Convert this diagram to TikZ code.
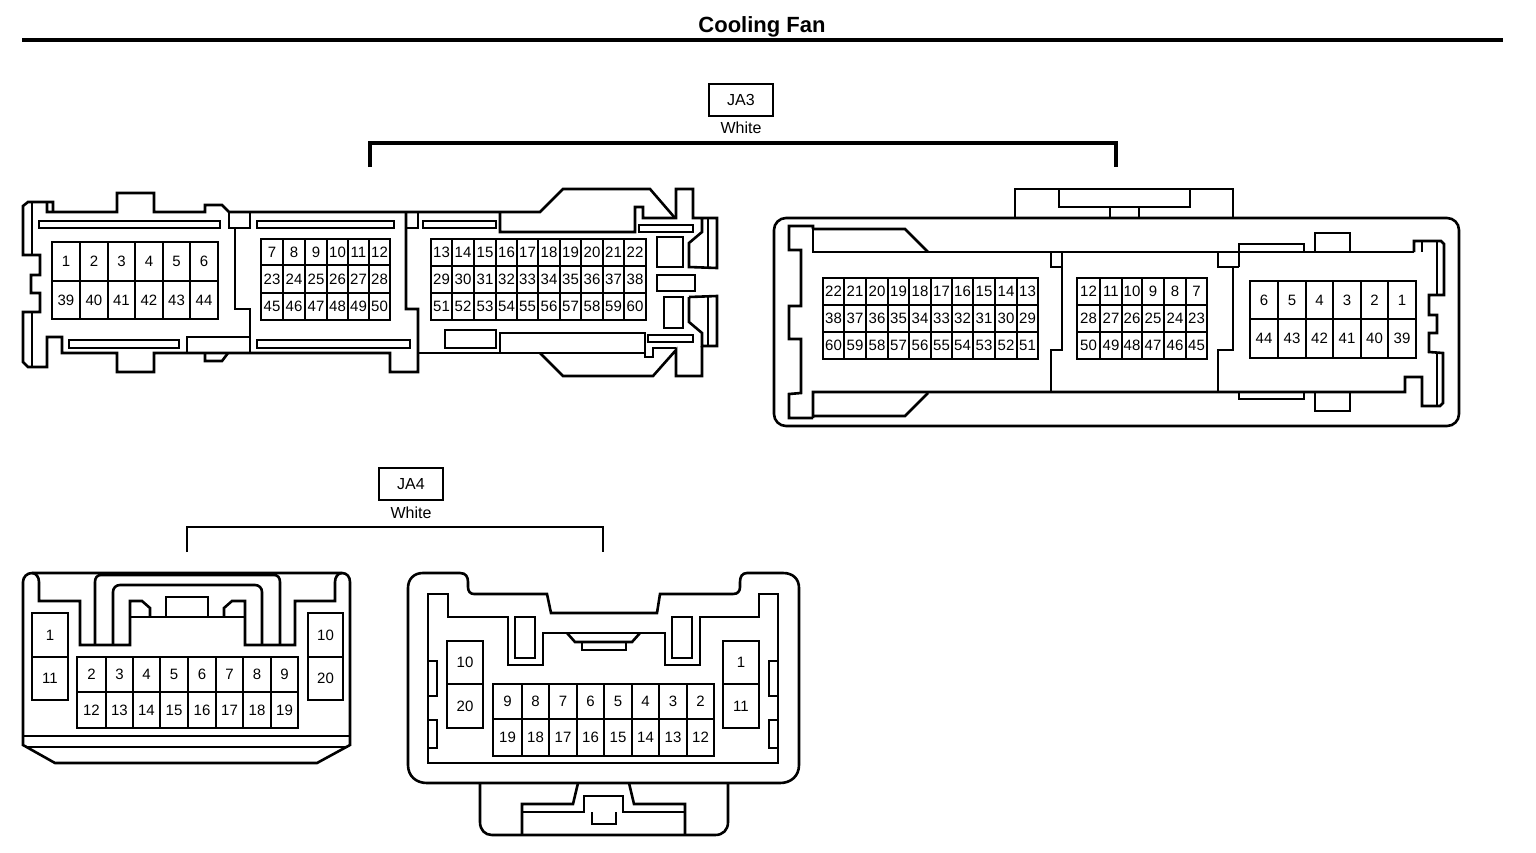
\documentclass[tikz,border=0pt]{standalone}
\usepackage{fontspec}
\setmainfont{Liberation Sans}
\tikzset{
  wall/.style={draw=black,line width=2.6pt,miter limit=4,line join=miter},
  thin wall/.style={draw=black,line width=1.8pt},
  bold wall/.style={draw=black,line width=3.2pt},
  slot/.style={draw=black,line width=2.6pt},
  cell/.style={draw=black,line width=2.6pt,inner sep=0pt,outer sep=0pt,font=\fontsize{15}{17}\selectfont,text depth=0pt},
  keybox/.style={draw=black,line width=2.4pt,minimum width=64pt,minimum height=32pt,inner sep=0pt,font=\fontsize{16}{18}\selectfont},
  caption/.style={inner sep=0pt,font=\fontsize{16}{18}\selectfont},
}
\newcommand{\gridrow}[5]{% prefix, ytop, ybot, bounds, labels
  \foreach \lab [count=\ci] in {#5} {
    \pgfmathsetmacro\xa{#4[\ci-1]}
    \pgfmathsetmacro\xb{#4[\ci]}
    \pgfmathsetmacro\cellw{\xb-\xa}
    \pgfmathsetmacro\cellh{#3-#2}
    \node[cell,minimum width=\cellw pt,minimum height=\cellh pt] (#1\lab) at ({(\xa+\xb)/2},{(#2+#3)/2}) {\lab};
  }
}
\begin{document}
\begin{tikzpicture}[x=1pt,y=-1pt]
\path[fill=white] (0,0) rectangle (1536,852);
\useasboundingbox (0,0) rectangle (1536,852);

% ---------- title
\node[inner sep=0pt,font=\fontsize{22}{24}\selectfont\bfseries] (title) at (762,26.5) {Cooling Fan};
\coordinate (rulel) at (22,40); \coordinate (ruler) at (1503,40);
\draw[line width=3.2pt] (rulel) -- (ruler);

% ---------- keys and brackets
\node[keybox] (ja3) at (741,100) {\raisebox{-1pt}{JA3}};
\node[caption] (ja3w) at (741,128) {White};
\coordinate (b3a) at (370,167); \coordinate (b3b) at (370,143); \coordinate (b3c) at (1116,143); \coordinate (b3d) at (1116,167);
\draw[bold wall] (b3a) -- (b3b) -- (b3c) -- (b3d);
\node[keybox] (ja4) at (411,484) {\raisebox{-1pt}{JA4}};
\node[caption] (ja4w) at (411,513) {White};
\coordinate (b4a) at (187,552); \coordinate (b4b) at (187,527); \coordinate (b4c) at (603,527); \coordinate (b4d) at (603,552);
\draw[wall] (b4a) -- (b4b) -- (b4c) -- (b4d);

% ---------- JA3 left connector
\draw[wall] (53,212) -- (53,202) -- (28,202) -- (23,206) -- (23,255) -- (40,255) -- (40,275) -- (31,275) -- (31,293) -- (40,293) -- (40,312) -- (23,312) -- (23,362) -- (28,367) -- (47,367) -- (47,337) -- (62,337) -- (62,353) -- (117,353) -- (117,372) -- (154,372) -- (154,353) -- (390,353) -- (390,372) -- (418,372) -- (418,309) -- (406,309) -- (406,212);
\draw[wall] (406,228) -- (418,228) -- (418,212);
\draw[wall] (47,202) -- (47,212) -- (117,212) -- (117,193) -- (154,193) -- (154,212) -- (205,212) -- (205,205) -- (222,205) -- (229,212) -- (540,212) -- (563,189) -- (650,189) -- (675,218);
\draw[wall] (32,202) -- (32,255) (32,312) -- (32,367);
\draw[wall] (205,353) -- (205,361) -- (222,361) -- (228,353);
\draw[slot] (39,221) rectangle (220,228);
\draw[slot] (69,340) rectangle (179,348);
\draw[slot] (257,221) rectangle (394,228);
\draw[slot] (257,340) rectangle (410,348);
\draw[slot] (423,221) rectangle (496,228);
\draw[wall] (229,212) -- (229,228) -- (250,228) -- (250,212);
\draw[wall] (235,228) -- (235,309) -- (250,309) -- (250,353);
\draw[wall] (187,353) -- (187,337) -- (250,337);
% right end
\draw[wall] (500,212) -- (500,232) -- (635,232) -- (635,207) -- (643,207) -- (643,218) -- (676,218) -- (676,189) -- (693,189) -- (693,218) -- (717,218) -- (717,268) -- (689,267) -- (689,243) -- (702,232) -- (702,218);
\draw[wall] (708,218) -- (708,268);
\draw[slot] (639,225) rectangle (693,232);
\draw[wall] (657,237) rectangle (683,267);
\draw[wall] (657,275) rectangle (695,291);
\draw[wall] (664,297) rectangle (683,328);
\draw[wall] (689,297) -- (717,296) -- (717,346) -- (702,346) -- (702,333) -- (689,322) -- (689,297);
\draw[wall] (708,296) -- (708,346);
\draw[wall] (702,346) -- (702,376) -- (676,376) -- (676,350) -- (653,376) -- (563,376) -- (540,353);
\draw[wall] (418,353) -- (645,353);
\draw[wall] (500,353) -- (500,333) -- (645,333) -- (645,357) -- (653,357) -- (653,348) -- (676,348);
\draw[slot] (648,335) rectangle (693,342);
\draw[wall] (445,330) rectangle (496,348);

\def\colsA{{52,80,108,135,163,190,218}}
\gridrow{la}{242}{281}{\colsA}{1,2,3,4,5,6}
\gridrow{la}{281}{319}{\colsA}{39,40,41,42,43,44}
\def\colsB{{261,283,305,327,348,369,390}}
\gridrow{la}{239}{265}{\colsB}{7,8,9,10,11,12}
\gridrow{la}{265}{293}{\colsB}{23,24,25,26,27,28}
\gridrow{la}{293}{320}{\colsB}{45,46,47,48,49,50}
\def\colsC{{431,452,474,496,517,538,560,581,603,624,646}}
\gridrow{la}{239}{266}{\colsC}{13,14,15,16,17,18,19,20,21,22}
\gridrow{la}{266}{293}{\colsC}{29,30,31,32,33,34,35,36,37,38}
\gridrow{la}{293}{320}{\colsC}{51,52,53,54,55,56,57,58,59,60}

% ---------- JA3 right connector
\draw[wall,rounded corners=12pt] (774,218) rectangle (1459,426);
\draw[wall] (1015,218) -- (1015,189) -- (1233,189) -- (1233,218);
\draw[wall] (1059,189) -- (1059,207) -- (1190,207) -- (1190,189);
\draw[thin wall] (1110,207) -- (1110,218) (1139,207) -- (1139,218);
\draw[wall] (813,229) -- (813,226) -- (789,226) -- (789,250) -- (801,250) -- (801,306) -- (789,306) -- (789,339) -- (801,339) -- (801,393) -- (789,394) -- (789,418) -- (813,418);
\draw[wall] (813,229) -- (905,229) -- (928,252);
\draw[wall] (813,229) -- (813,252) -- (1414,252);
\draw[wall] (813,418) -- (813,392) -- (1405,392) -- (1405,377) -- (1422,377) -- (1422,406) -- (1440,406) -- (1443,403) -- (1443,353) -- (1429,352) -- (1429,333) -- (1437,333) -- (1437,315) -- (1429,315) -- (1429,295) -- (1444,295) -- (1444,244) -- (1441,241) -- (1414,241) -- (1414,252);
\draw[wall] (813,416) -- (905,416) -- (928,393);
\draw[wall] (1422,241) -- (1422,252);
\draw[thin wall] (1437,241) -- (1437,295) (1437,353) -- (1437,406);
\draw[wall] (1051,252) -- (1051,267) -- (1062,267) (1062,252) -- (1062,350) -- (1051,350) -- (1051,392);
\draw[wall] (1218,252) -- (1218,267) -- (1233,267) -- (1233,350) -- (1218,350) -- (1218,392);
\draw[wall] (1239,267) -- (1239,244) -- (1304,244) -- (1304,252);
\draw[wall] (1233,267) -- (1239,267);
\draw[wall] (1239,392) -- (1239,399) -- (1304,399) -- (1304,392);
\draw[wall] (1315,252) -- (1315,233) -- (1350,233) -- (1350,252);
\draw[wall] (1315,392) -- (1315,411) -- (1350,411) -- (1350,392);

\def\colsD{{823,844,866,888,909,931,952,973,995,1017,1038}}
\gridrow{ra}{278}{305}{\colsD}{22,21,20,19,18,17,16,15,14,13}
\gridrow{ra}{305}{332}{\colsD}{38,37,36,35,34,33,32,31,30,29}
\gridrow{ra}{332}{359}{\colsD}{60,59,58,57,56,55,54,53,52,51}
\def\colsE{{1077,1100,1122,1142,1164,1186,1207}}
\gridrow{ra}{278}{305}{\colsE}{12,11,10,9,8,7}
\gridrow{ra}{305}{332}{\colsE}{28,27,26,25,24,23}
\gridrow{ra}{332}{359}{\colsE}{50,49,48,47,46,45}
\def\colsF{{1250,1278,1306,1333,1361,1388,1416}}
\gridrow{ra}{281}{319}{\colsF}{6,5,4,3,2,1}
\gridrow{ra}{319}{358}{\colsF}{44,43,42,41,40,39}

% ---------- JA4 left connector
\draw[wall] (32,573) -- (342,573) .. controls (347,573) and (350,577) .. (350,582) -- (350,745) -- (317,763) -- (55,763) -- (23,745) -- (23,582) .. controls (23,577) and (27,573) .. (32,573);
\draw[wall] (23,736) -- (350,736) (25,747) -- (348,747);
\draw[wall] (32,573) .. controls (36,573) and (39,577) .. (39,582) -- (39,601) -- (80,601) -- (80,645) -- (130,645) -- (130,601) -- (142,601) -- (150,608) -- (150,617);
\draw[wall] (130,617) -- (245,617);
\draw[wall] (224,617) -- (224,608) -- (232,601) -- (245,601) -- (245,645) -- (295,645) -- (295,601) -- (335,601) -- (335,582) .. controls (335,577) and (338,573) .. (342,573);
\draw[wall] (95,645) -- (95,582) .. controls (95,578) and (97,575) .. (101,575) -- (274,575) .. controls (278,575) and (280,578) .. (280,582) -- (280,645);
\draw[wall] (113,645) -- (113,592) .. controls (113,588) and (116,585) .. (120,585) -- (255,585) .. controls (259,585) and (262,588) .. (262,592) -- (262,645);
\draw[wall] (166,617) -- (166,597) -- (208,597) -- (208,617);
\node[cell,minimum width=36pt,minimum height=44pt] (lb1) at (50,635) {1};
\node[cell,minimum width=36pt,minimum height=43pt] (lb11) at (50,678.5) {11};
\node[cell,minimum width=35pt,minimum height=44pt] (lb10) at (325.5,635) {10};
\node[cell,minimum width=35pt,minimum height=43pt] (lb20) at (325.5,678.5) {20};
\def\colsG{{77,106,133,160,188,216,243,271,298}}
\gridrow{lb}{657}{692}{\colsG}{2,3,4,5,6,7,8,9}
\gridrow{lb}{692}{728}{\colsG}{12,13,14,15,16,17,18,19}

% ---------- JA4 right connector
\draw[wall] (423,573) -- (460,573) .. controls (466,573) and (468,577) .. (468,582) -- (468,587) .. controls (468,591) and (470,594) .. (474,594) -- (547,594) -- (551,613) -- (657,613) -- (660,594) -- (733,594) .. controls (738,594) and (740,591) .. (740,587) -- (740,582) .. controls (740,577) and (742,573) .. (747,573) -- (783,573) .. controls (793,573) and (799,579) .. (799,588) -- (799,765) .. controls (799,776) and (791,783) .. (780,783) -- (427,783) .. controls (416,783) and (408,776) .. (408,765) -- (408,588) .. controls (408,579) and (414,573) .. (423,573) -- cycle;
\draw[wall] (428,594) -- (448,594) -- (448,617) -- (508,617) -- (508,665) -- (543,665) -- (543,633) -- (665,633) -- (665,665) -- (700,665) -- (700,617) -- (759,617) -- (759,594) -- (778,594) -- (778,763) -- (428,763) -- cycle;
\draw[wall] (515,617) rectangle (535,658);
\draw[wall] (672,617) rectangle (692,658);
\draw[wall] (567,633) -- (575,642) -- (632,642) -- (640,633);
\draw[wall] (582,642) -- (582,650) -- (626,650) -- (626,642);
\draw[wall] (428,661) -- (437,661) -- (437,696) -- (428,696);
\draw[wall] (428,720) -- (437,720) -- (437,748) -- (428,748);
\draw[wall] (778,661) -- (769,661) -- (769,696) -- (778,696);
\draw[wall] (778,720) -- (769,720) -- (769,748) -- (778,748);
\node[cell,minimum width=36pt,minimum height=43pt] (rb10) at (465,662.5) {10};
\node[cell,minimum width=36pt,minimum height=44pt] (rb20) at (465,706) {20};
\node[cell,minimum width=36pt,minimum height=43pt] (rb1) at (741,662.5) {1};
\node[cell,minimum width=36pt,minimum height=44pt] (rb11) at (741,706) {11};
\def\colsH{{493,522,549,577,604,632,659,687,714}}
\gridrow{rb}{684}{719}{\colsH}{9,8,7,6,5,4,3,2}
\gridrow{rb}{719}{756}{\colsH}{19,18,17,16,15,14,13,12}
% lower tab
\draw[wall] (480,783) -- (480,822) .. controls (480,830) and (485,835) .. (492,835) -- (715,835) .. controls (723,835) and (728,830) .. (728,822) -- (728,783);
\draw[wall] (578,783) -- (573,804) -- (522,804) -- (522,835);
\draw[wall] (629,783) -- (634,804) -- (685,804) -- (685,835);
\draw[wall] (522,812) -- (584,812) -- (584,796) -- (623,796) -- (623,812) -- (685,812);
\draw[wall] (592,812) -- (592,824) -- (616,824) -- (616,812);
\end{tikzpicture}
\end{document}
